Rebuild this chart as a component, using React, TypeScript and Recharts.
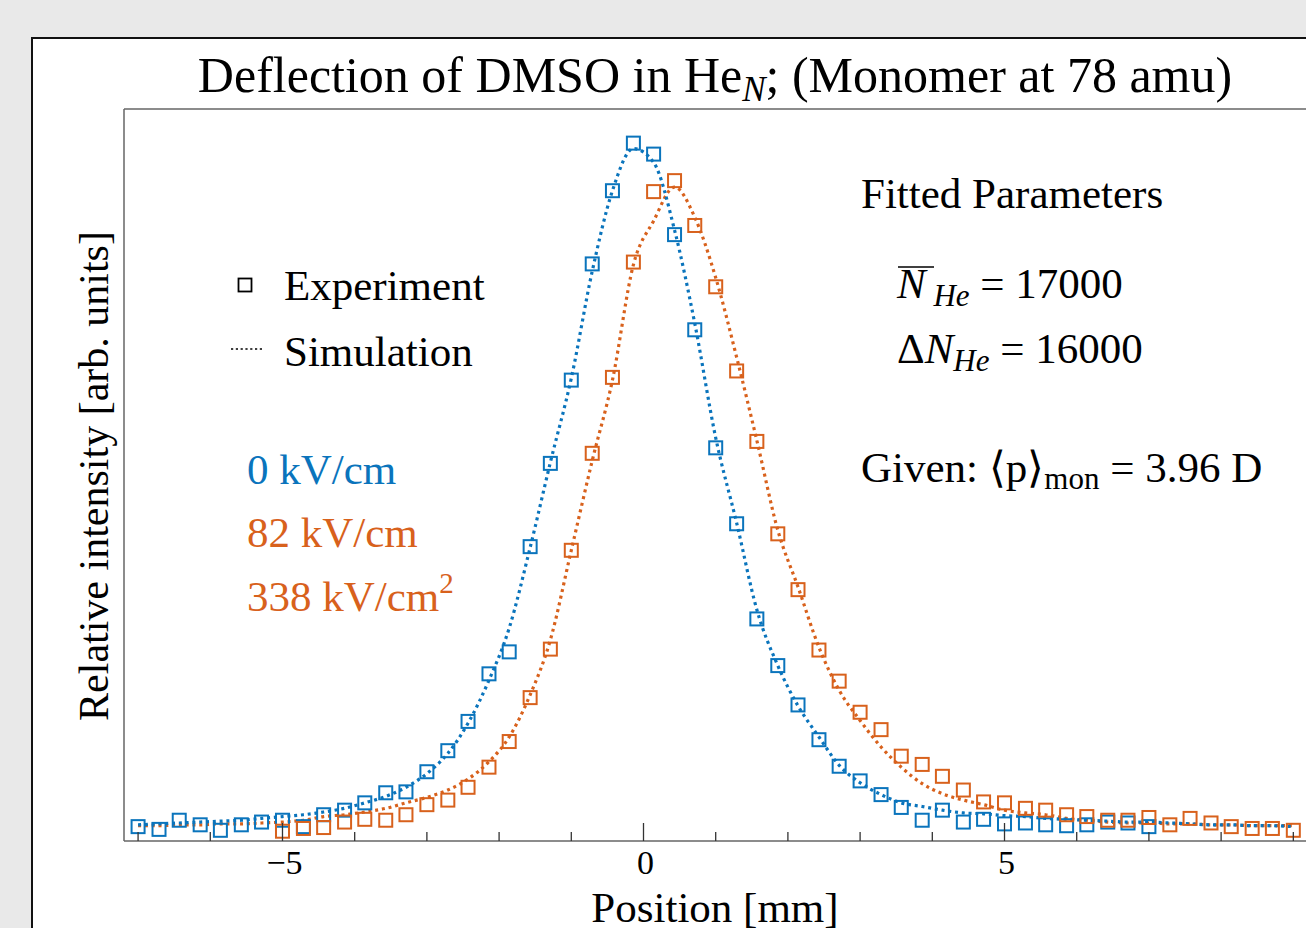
import React from "react"
import { ComposedChart, Line, XAxis, YAxis } from "recharts"

// detector positions [mm]
const positions = [
  -7.0, -6.71, -6.43, -6.14, -5.86, -5.57, -5.29, -5.0, -4.71, -4.43,
  -4.14, -3.86, -3.57, -3.29, -3.0, -2.71, -2.43, -2.14, -1.86, -1.57,
  -1.29, -1.0, -0.71, -0.43, -0.14, 0.14, 0.43, 0.71, 1.0, 1.29,
  1.57, 1.86, 2.14, 2.43, 2.71, 3.0, 3.29, 3.57, 3.86, 4.14,
  4.43, 4.71, 5.0, 5.29, 5.57, 5.86, 6.14, 6.43, 6.71, 7.0,
  7.29, 7.57, 7.86, 8.14, 8.43, 8.71, 9.0,
]

// 0 kV/cm, experiment
const blueExperiment = [
  0.08, 0.05, 0.15, 0.1, 0.04, 0.1, 0.13, 0.15, 0.08, 0.21,
  0.26, 0.34, 0.45, 0.46, 0.68, 0.91, 1.23, 1.75, 1.99, 3.14,
  4.05, 4.96, 6.23, 7.03, 7.55, 7.43, 6.55, 5.51, 4.22, 3.39,
  2.35, 1.84, 1.41, 1.03, 0.74, 0.58, 0.43, 0.29, 0.15, 0.26,
  0.13, 0.16, 0.11, 0.12, 0.1, 0.09, 0.1, 0.13, 0.12, 0.08,
  null, null, null, null, null, null, null,
]

// 82 kV/cm, experiment
const orangeExperiment = [
  null, null, null, null, null, null, null, 0.03, 0.06, 0.07,
  0.13, 0.16, 0.15, 0.21, 0.32, 0.37, 0.51, 0.73, 1.01, 1.49,
  2.02, 3.1, 4.16, 4.99, 6.25, 7.02, 7.14, 6.65, 5.98, 5.06,
  4.29, 3.28, 2.67, 2.01, 1.67, 1.33, 1.14, 0.85, 0.76, 0.63,
  0.48, 0.35, 0.34, 0.28, 0.26, 0.21, 0.19, 0.15, 0.15, 0.18,
  0.1, 0.17, 0.12, 0.08, 0.06, 0.06, 0.04,
]

const blueSimulation = [
  0.1, 0.11, 0.12, 0.13, 0.14, 0.15, 0.17, 0.19, 0.21, 0.24,
  0.28, 0.34, 0.41, 0.51, 0.66, 0.88, 1.21, 1.68, 2.25, 3.13,
  4.06, 4.98, 6.15, 7.03, 7.49, 7.34, 6.6, 5.58, 4.33, 3.4,
  2.45, 1.84, 1.4, 1.06, 0.75, 0.56, 0.43, 0.34, 0.3, 0.26,
  0.23, 0.22, 0.2, 0.19, 0.17, 0.16, 0.15, 0.14, 0.13, 0.13,
  0.12, 0.11, 0.1, 0.1, 0.09, 0.09, 0.08,
]

const orangeSimulation = [
  0.09, 0.09, 0.1, 0.1, 0.11, 0.11, 0.12, 0.13, 0.15, 0.19,
  0.21, 0.24, 0.28, 0.34, 0.4, 0.48, 0.6, 0.79, 1.06, 1.52,
  2.12, 3.1, 4.08, 4.96, 6.22, 6.7, 7.07, 6.74, 6.08, 5.21,
  4.3, 3.32, 2.7, 2.04, 1.57, 1.24, 0.95, 0.73, 0.55, 0.44,
  0.37, 0.32, 0.26, 0.23, 0.21, 0.17, 0.15, 0.13, 0.12, 0.12,
  0.11, 0.11, 0.1, 0.1, 0.09, 0.09, 0.09,
]

const xTicks = [-7, -6, -5, -4, -3, -2, -1, 0, 1, 2, 3, 4, 5, 6, 7, 8, 9]
const xLabels = [-5, 0, 5]
const yTicks = [0, 1, 2, 3, 4, 5, 6, 7]

const BLUE = "#0A74BC"
const ORANGE = "#D8611C"
const FONT = '"Liberation Serif", "Times New Roman", serif'

const data = positions.map((x, i) => ({
  x,
  blueExp: blueExperiment[i],
  orangeExp: orangeExperiment[i],
  blueSim: blueSimulation[i],
  orangeSim: orangeSimulation[i],
}))

const squareDot = (color: string) => (props: any) => {
  const { cx, cy, value, index } = props
  if (value == null || cx == null || cy == null || isNaN(cy)) return <g key={`n${index}`} />
  return (
    <rect
      key={`s${index}`}
      x={cx - 6.5}
      y={cy - 6.5}
      width={13}
      height={13}
      fill="none"
      stroke={color}
      strokeWidth={2}
    />
  )
}

function XTick(props: any) {
  const { x, y, payload } = props
  const v = payload.value
  const major = xLabels.includes(v)
  return (
    <g>
      <line x1={x} x2={x} y1={y} y2={y - (major ? 18 : 9)} stroke="#333" strokeWidth={1.3} />
      {major && (
        <text x={x + 2} y={y + 33} textAnchor="middle" fontSize={34} fontFamily={FONT} fill="#000">
          {v < 0 ? `\u2212${Math.abs(v)}` : `${v}`}
        </text>
      )}
    </g>
  )
}

export default function App() {
  const xDomain = [-7.195, 9.508]
  const yDomain = [-0.077, 7.923]
  return (
    <div style={{ position: "fixed", left: 0, top: 0, width: 1306, height: 928, overflow: "hidden", background: "#e9e9e9" }}>
      <div style={{ position: "absolute", left: 31, top: 37, width: 1400, height: 1000, background: "#fff", border: "2px solid #111" }} />
      <div style={{ position: "absolute", left: 0, top: 0 }}>
        <ComposedChart width={1400} height={928} data={data} margin={{ top: 109, right: 70, bottom: 47, left: 124 }}>
          <XAxis
            dataKey="x"
            type="number"
            domain={xDomain}
            allowDataOverflow
            ticks={xTicks}
            interval={0}
            height={40}
            tickSize={0}
            tickMargin={0}
            tickLine={false}
            tick={<XTick />}
            axisLine={{ stroke: "#666", strokeWidth: 1.5 }}
          />
          <XAxis
            xAxisId="top"
            dataKey="x"
            type="number"
            orientation="top"
            mirror
            domain={xDomain}
            allowDataOverflow
            tick={false}
            tickLine={false}
            axisLine={{ stroke: "#666", strokeWidth: 1.5 }}
          />
          <YAxis
            type="number"
            domain={yDomain}
            allowDataOverflow
            ticks={yTicks}
            interval={0}
            mirror
            tickSize={18}
            tick={false}
            tickLine={{ stroke: "#777", strokeWidth: 1.5 }}
            axisLine={{ stroke: "#666", strokeWidth: 1.5 }}
          />
          <Line dataKey="blueExp" stroke="none" dot={squareDot(BLUE)} activeDot={false} isAnimationActive={false} />
          <Line dataKey="orangeExp" stroke="none" dot={squareDot(ORANGE)} activeDot={false} isAnimationActive={false} />
          <Line
            type="monotone"
            dataKey="orangeSim"
            stroke={ORANGE}
            strokeWidth={3.2}
            strokeDasharray="3 3.8"
            dot={false}
            activeDot={false}
            isAnimationActive={false}
          />
          <Line
            type="monotone"
            dataKey="blueSim"
            stroke={BLUE}
            strokeWidth={3.2}
            strokeDasharray="3 3.8"
            dot={false}
            activeDot={false}
            isAnimationActive={false}
          />
        </ComposedChart>
      </div>
      <svg width={1306} height={928} style={{ position: "absolute", left: 0, top: 0, pointerEvents: "none" }} fontFamily={FONT}>
        <text x={715} y={92} fontSize={50} textAnchor="middle" fill="#000">
          Deflection of DMSO in He
          <tspan fontStyle="italic" fontSize={35} dy={9}>N</tspan>
          <tspan dy={-9}>; (Monomer at 78 amu)</tspan>
        </text>
        <text transform="rotate(-90)" x={-476} y={108} fontSize={42} textAnchor="middle" fill="#000">
          Relative intensity [arb. units]
        </text>
        <text x={715} y={922} fontSize={43} textAnchor="middle" fill="#000">
          Position [mm]
        </text>

        <rect x={238.5} y={278.5} width={13} height={13} fill="none" stroke="#000" strokeWidth={1.8} />
        <text x={284} y={300} fontSize={43} fill="#000">Experiment</text>
        <line x1={231} x2={263} y1={349} y2={349} stroke="#000" strokeWidth={1.6} strokeDasharray="2.2 2.6" />
        <text x={284} y={366} fontSize={43} fill="#000">Simulation</text>

        <text x={247} y={484} fontSize={43} fill={BLUE}>0 kV/cm</text>
        <text x={247} y={547} fontSize={43} fill={ORANGE}>82 kV/cm</text>
        <text x={247} y={611} fontSize={43} fill={ORANGE}>
          338 kV/cm<tspan fontSize={29} dy={-18}>2</tspan>
        </text>

        <text x={861} y={208} fontSize={43} fill="#000">Fitted Parameters</text>
        <line x1={898} x2={934} y1={267} y2={267} stroke="#000" strokeWidth={1.6} />
        <text x={897} y={298} fontSize={43} fill="#000">
          <tspan fontStyle="italic">N</tspan>
          <tspan fontStyle="italic" fontSize={31} dy={8}> He</tspan>
          <tspan dy={-8}> = 17000</tspan>
        </text>
        <text x={897} y={363} fontSize={43} fill="#000">
          {"\u0394"}
          <tspan fontStyle="italic">N</tspan>
          <tspan fontStyle="italic" fontSize={31} dy={8}>He</tspan>
          <tspan dy={-8}> = 16000</tspan>
        </text>
        <text x={861} y={482} fontSize={43} fill="#000">
          Given: {"\u27E8"}p{"\u27E9"}
          <tspan fontSize={31} dy={7}>mon</tspan>
          <tspan dy={-7}> = 3.96 D</tspan>
        </text>
      </svg>
    </div>
  )
}
